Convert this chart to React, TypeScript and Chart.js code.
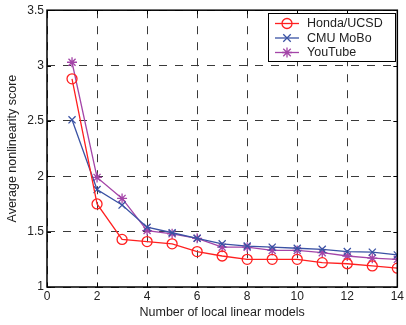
import React, { useEffect, useRef } from "react";
import { Chart, registerables } from "chart.js";

Chart.register(...registerables);

const xValues = [1, 2, 3, 4, 5, 6, 7, 8, 9, 10, 11, 12, 13, 14];
const hondaUCSD = [2.88, 1.75, 1.43, 1.41, 1.39, 1.32, 1.28, 1.25, 1.25, 1.25, 1.22, 1.21, 1.19, 1.17];
const cmuMoBo = [2.51, 1.88, 1.74, 1.54, 1.49, 1.44, 1.39, 1.37, 1.36, 1.35, 1.34, 1.32, 1.315, 1.29];
const youTube = [3.03, 1.99, 1.8, 1.51, 1.48, 1.44, 1.36, 1.36, 1.33, 1.33, 1.31, 1.28, 1.26, 1.25];
const seriesLabels = ["Honda/UCSD", "CMU MoBo", "YouTube"];
const seriesColors = ["#ff2020", "#3a52a4", "#a445a8"];
const seriesMarkers = ["circle", "crossRot", "star"];
const xTitle = "Number of local linear models";
const yTitle = "Average nonlinearity score";

const FONT = "'Liberation Sans', Arial, Helvetica, sans-serif";

function drawMarker(ctx: CanvasRenderingContext2D, style: string, x: number, y: number, r: number, color: string) {
  ctx.save();
  ctx.strokeStyle = color;
  ctx.lineWidth = 1.3;
  ctx.setLineDash([]);
  ctx.beginPath();
  if (style === "circle") {
    ctx.arc(x, y, r, 0, Math.PI * 2);
  } else if (style === "crossRot") {
    const d = r * 0.75;
    ctx.moveTo(x - d, y - d);
    ctx.lineTo(x + d, y + d);
    ctx.moveTo(x - d, y + d);
    ctx.lineTo(x + d, y - d);
  } else {
    const d = r * 0.75;
    ctx.moveTo(x - d, y - d);
    ctx.lineTo(x + d, y + d);
    ctx.moveTo(x - d, y + d);
    ctx.lineTo(x + d, y - d);
    ctx.moveTo(x - r, y);
    ctx.lineTo(x + r, y);
    ctx.moveTo(x, y - r);
    ctx.lineTo(x, y + r);
  }
  ctx.stroke();
  ctx.restore();
}

const framePlugin = {
  id: "matlabFrame",
  afterDraw(chart: any) {
    const { ctx, chartArea } = chart;
    const { left, right, top, bottom } = chartArea;
    ctx.save();
    ctx.setLineDash([]);
    ctx.strokeStyle = "#000";
    ctx.lineWidth = 1;
    const tl = 4;
    const xs = chart.scales.x;
    const ys = chart.scales.y;
    ctx.beginPath();
    xs.ticks.forEach((t: any) => {
      const px = Math.round(xs.getPixelForValue(t.value)) + 0.5;
      ctx.moveTo(px, bottom);
      ctx.lineTo(px, bottom - tl);
      ctx.moveTo(px, top);
      ctx.lineTo(px, top + tl);
    });
    ys.ticks.forEach((t: any) => {
      const py = Math.round(ys.getPixelForValue(t.value)) + 0.5;
      ctx.moveTo(left, py);
      ctx.lineTo(left + tl, py);
      ctx.moveTo(right, py);
      ctx.lineTo(right - tl, py);
    });
    ctx.stroke();
    ctx.lineWidth = 1.5;
    ctx.strokeRect(left, top, right - left, bottom - top);

    // legend
    const bx = 268, by = 13, bw = 127, bh = 48;
    ctx.fillStyle = "#fff";
    ctx.fillRect(bx, by, bw, bh);
    ctx.lineWidth = 1;
    ctx.strokeStyle = "#000";
    ctx.strokeRect(bx + 0.5, by + 0.5, bw, bh);
    const rowY = [23.5, 38, 52.5];
    chart.data.datasets.forEach((ds: any, i: number) => {
      const y = rowY[i];
      ctx.strokeStyle = ds.borderColor;
      ctx.lineWidth = 1.3;
      ctx.beginPath();
      ctx.moveTo(275, y);
      ctx.lineTo(299, y);
      ctx.stroke();
      drawMarker(ctx, ds.pointStyle, 287, y, ds.pointRadius, ds.borderColor);
      ctx.fillStyle = "#222";
      ctx.font = `12.5px ${FONT}`;
      ctx.textBaseline = "middle";
      ctx.textAlign = "left";
      ctx.fillText(ds.label, 307, y + 0.5);
    });
    ctx.restore();
  },
};

export default function App() {
  const ref = useRef<HTMLCanvasElement | null>(null);
  useEffect(() => {
    if (!ref.current) return;
    const seriesData = [hondaUCSD, cmuMoBo, youTube];
    const chart = new Chart(ref.current, {
      type: "line",
      data: {
        datasets: seriesData.map((vals, i) => ({
          label: seriesLabels[i],
          data: vals.map((v, j) => ({ x: xValues[j], y: v })),
          borderColor: seriesColors[i],
          backgroundColor: "transparent",
          borderWidth: 1.3,
          pointStyle: seriesMarkers[i] as any,
          pointRadius: 5,
          pointBorderWidth: 1.3,
          pointBorderColor: seriesColors[i],
          pointBackgroundColor: "transparent",
          tension: 0,
          fill: false,
        })),
      },
      options: {
        responsive: false,
        animation: false,
        layout: { padding: { left: 0, right: 6, top: 10, bottom: 0 } },
        plugins: { legend: { display: false }, tooltip: { enabled: false } },
        scales: {
          x: {
            type: "linear",
            min: 0,
            max: 14,
            afterFit: (s: any) => {
              s.height = 38;
            },
            ticks: {
              stepSize: 2,
              color: "#222",
              font: { size: 12, family: FONT },
              padding: 2,
              maxRotation: 0,
              callback: (v: any) => String(v),
            },
            grid: { color: "#3a3a3a", lineWidth: 1, drawTicks: false },
            border: { display: false, dash: [8, 8] },
            title: { display: true, text: xTitle, color: "#222", font: { size: 12.5, family: FONT }, padding: { top: 0, bottom: 4.5 } },
          },
          y: {
            type: "linear",
            min: 1,
            max: 3.5,
            afterFit: (s: any) => {
              s.width = 47;
            },
            ticks: {
              stepSize: 0.5,
              color: "#222",
              font: { size: 12, family: FONT },
              padding: 3,
              callback: (v: any) => String(v),
            },
            grid: { color: "#3a3a3a", lineWidth: 1, drawTicks: false },
            border: { display: false, dash: [8, 8] },
            title: { display: true, text: yTitle, color: "#222", font: { size: 12.5, family: FONT }, padding: { top: 5.5, bottom: 0 } },
          },
        },
      },
      plugins: [framePlugin],
    });
    return () => chart.destroy();
  }, []);
  return (
    <div style={{ position: "absolute", left: 0, top: 0, width: 406, height: 325, background: "#fff" }}>
      <canvas ref={ref} width={406} height={325} />
    </div>
  );
}
